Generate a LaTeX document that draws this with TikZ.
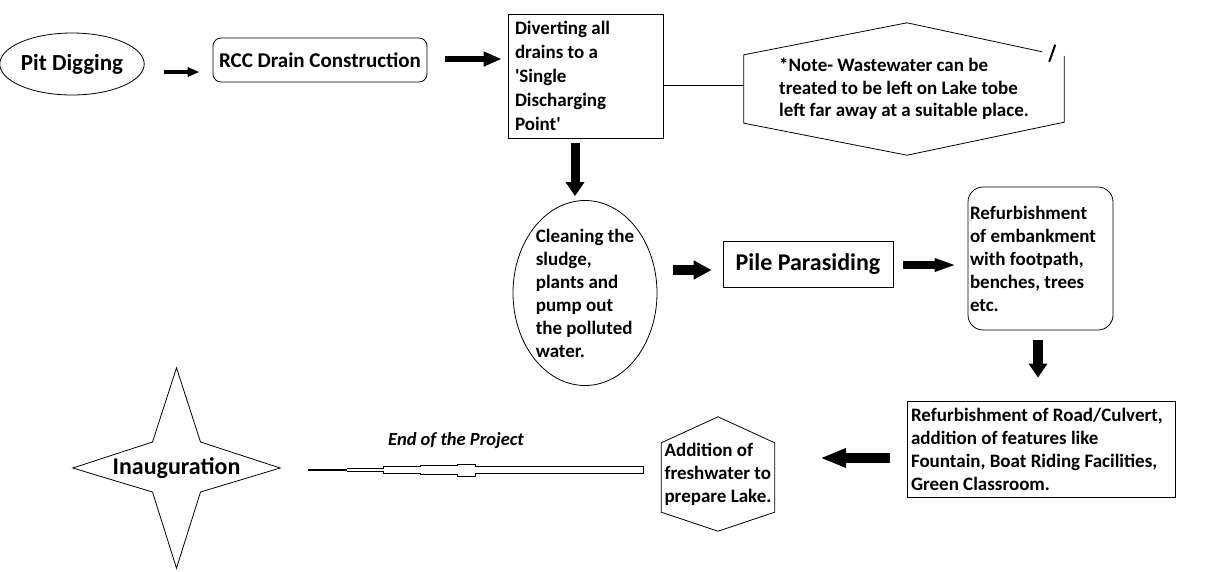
\documentclass[tikz,border=0pt]{standalone}
\usepackage{fontspec}
\setmainfont{Carlito}
\usetikzlibrary{arrows.meta, shapes.geometric, calc}

\begin{document}
\begin{tikzpicture}[x=1pt, y=-1pt,
    shp/.style={draw=black, line width=0.8pt},
    lbl/.style={font=\bfseries\fontsize{19}{23}\selectfont, align=flush left, inner sep=0pt},
    oval/.style={shp, ellipse, inner sep=0pt},
    rbox/.style={shp, rectangle, inner sep=0pt},
    blk/.style n args={3}{line width=#1, -{Triangle[length=#2, width=#3]}}
  ]

  \fill[white] (0,0) rectangle (1225,571);
  \useasboundingbox (0,0) rectangle (1225,571);

  % top row
  \node[oval, minimum width=123pt, minimum height=62pt,
        font=\bfseries\fontsize{23}{26}\selectfont] (pit) at (72,64) {Pit Digging};
  \node[rbox, rounded corners=8pt, minimum width=214pt, minimum height=44pt,
        font=\bfseries\fontsize{21}{24}\selectfont] (rcc) at (320,60) {RCC Drain Construction};
  \node[rbox, lbl, font=\bfseries\fontsize{19}{24}\selectfont, minimum width=155pt,
        minimum height=124pt, text width=141pt]
        (div) at (585.5,76) {Diverting all\\drains to a\\\textquotesingle Single\\Discharging\\Point\textquotesingle};
  \node[lbl, font=\bfseries\fontsize{19}{22.5}\selectfont, minimum width=320pt,
        minimum height=132pt] (note) at (904,89)
        {*Note- Wastewater can be\\treated to be left on Lake tobe\\left far away at a suitable place.};

  \draw[shp] ($(note.north east)+(-22,29)$) -- ($(note.north)+(3,0)$)
    -- ($(note.north west)+(0,32)$) -- ($(note.south west)+(0,-32)$)
    -- ($(note.south)+(3,0)$) -- ($(note.south east)+(0,-33)$)
    -- ($(note.north east)+(0,33)$);
  \draw[line width=2pt] ($(note.north east)+(-9,22)$) -- ($(note.north east)+(-15,39)$);

  % middle row
  \node[oval, lbl, inner sep=-5pt, minimum width=144pt, minimum height=185pt]
        (clean) at (585,293) {Cleaning the\\sludge,\\plants and\\pump out\\the polluted\\water.};
  \node[rbox, minimum width=170pt, minimum height=46pt,
        font=\bfseries\fontsize{24}{27}\selectfont] (pile) at (808,264) {Pile Parasiding};
  \node[rbox, lbl, rounded corners=15pt, minimum width=145pt, minimum height=143pt, text width=141pt]
        (emb) at (1040.5,258.5) {Refurbishment\\of embankment\\with footpath,\\benches, trees\\etc.};

  % bottom row
  \node[rbox, lbl, minimum width=268pt, minimum height=96pt, text width=260pt]
        (road) at (1041,449) {Refurbishment of Road/Culvert,\\addition of features like\\Fountain, Boat Riding Facilities,\\Green Classroom.};
  \node[lbl, minimum width=113pt, minimum height=114pt] (add) at (718,474)
        {Addition of\\freshwater to\\prepare Lake.};
  \draw[shp] (add.north) -- ($(add.north east)+(0,26)$) -- ($(add.south east)+(0,-19)$)
    -- (add.south) -- ($(add.south west)+(0,-19)$) -- ($(add.north west)+(0,26)$) -- cycle;

  \node[minimum width=207pt, minimum height=200pt, inner sep=0pt,
        font=\bfseries\fontsize{24}{27}\selectfont] (inaug) at (176.5,468) {Inauguration};
  \draw[shp] (inaug.north) -- ($(inaug.center)+(24,-26)$) -- (inaug.east)
    -- ($(inaug.center)+(24,24)$) -- (inaug.south) -- ($(inaug.center)+(-24,24)$)
    -- (inaug.west) -- ($(inaug.center)+(-24,-26)$) -- cycle;

  \node[font=\bfseries\itshape\fontsize{18.5}{21}\selectfont] (endtxt) at (456,441) {End of the Project};

  % connectors
  \draw[shp] ([yshift=-9pt]div.east) -- ([yshift=4pt]note.west);
  \draw[blk={4pt}{12pt}{9pt}] ([xshift=19pt,yshift=-8pt]pit.east) -- ([xshift=-13pt,yshift=-12pt]rcc.west);
  \draw[blk={6pt}{18pt}{14pt}] ([xshift=18pt,yshift=1pt]rcc.east) -- ([xshift=-6pt,yshift=17pt]div.west);
  \draw[blk={9pt}{14pt}{18pt}] ([xshift=-10.5pt,yshift=-5pt]div.south) -- ([xshift=-10pt,yshift=4pt]clean.north);
  \draw[blk={10pt}{18pt}{18pt}] ([xshift=16pt,yshift=23pt]clean.east) -- ([xshift=-11pt,yshift=-6pt]pile.west);
  \draw[blk={8pt}{22pt}{12pt}] ([xshift=10pt,yshift=-1pt]pile.east) -- ([xshift=-11pt,yshift=-6.5pt]emb.west);
  \draw[blk={10pt}{14pt}{18pt}] ([xshift=-2.5pt,yshift=-10pt]emb.south) -- ([xshift=-3pt,yshift=23pt]road.north);
  \draw[blk={10pt}{26pt}{18pt}] ([xshift=-17pt,yshift=-9pt]road.west) -- ([xshift=45.5pt,yshift=16pt]add.east);

  % end of project line
  \coordinate (endl) at ([xshift=28pt,yshift=-2pt]inaug.east);
  \begin{scope}[shift={(endl)}]
    \draw[line width=1.6pt] (0,0) -- (39,0);
    \draw[shp] (39,-1.5) -- (75,-1.5) -- (75,-3.3) -- (112,-3.3) -- (112,-4.5) -- (149,-4.5)
      -- (149,-6) -- (167,-6) -- (167,-3.5) -- (335,-3.5) -- (335,3.5) -- (167,3.5)
      -- (167,6) -- (149,6) -- (149,4.5) -- (112,4.5) -- (112,3.3) -- (75,3.3) -- (75,1.5) -- (39,1.5);
  \end{scope}

\end{tikzpicture}
\end{document}
